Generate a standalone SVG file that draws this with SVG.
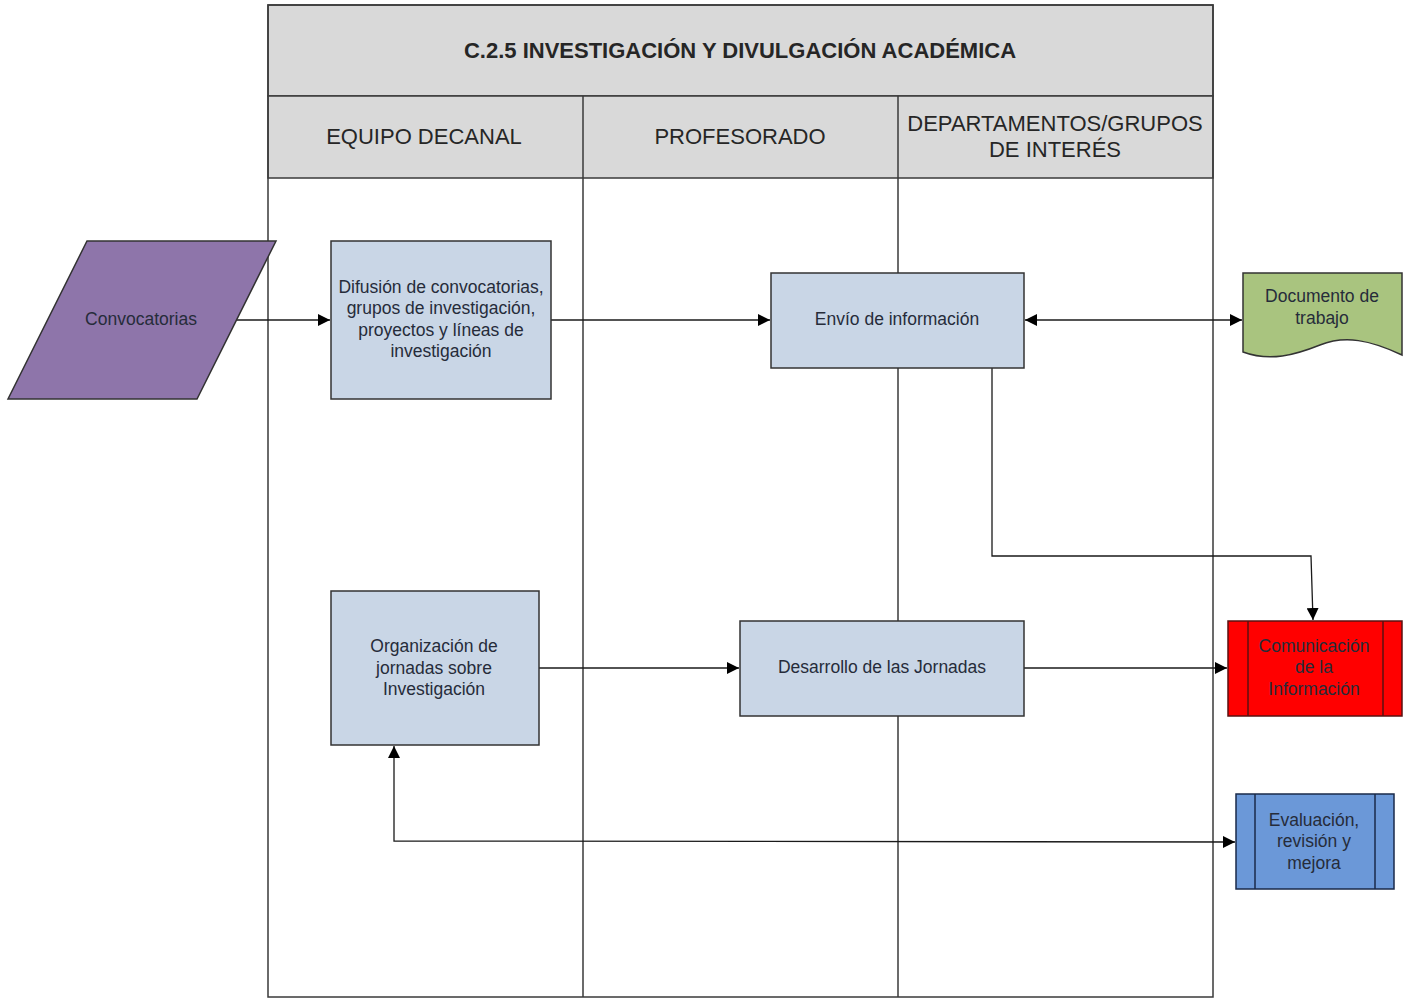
<svg xmlns="http://www.w3.org/2000/svg" width="1414" height="1001" viewBox="0 0 1414 1001">
<defs>
<style>
.lane{fill:none;stroke:#3a3a3a;stroke-width:1.5}
.hdr{fill:#d9d9d9;stroke:#3a3a3a;stroke-width:1.5}
.ht{font-family:"Liberation Sans",Arial,sans-serif;font-size:22px;fill:#262626;text-anchor:middle}
.tt{font-family:"Liberation Sans",Arial,sans-serif;font-size:22px;font-weight:bold;fill:#262626;text-anchor:middle}
.box{fill:#c9d6e6;stroke:#333;stroke-width:1.5}
.t{font-family:"Liberation Sans",Arial,sans-serif;font-size:17.5px;fill:#262c3a;text-anchor:middle}
.c{fill:none;stroke:#1a1a1a;stroke-width:1.3}
</style>
<marker id="ah" viewBox="0 0 10 10" refX="10" refY="5" markerWidth="12" markerHeight="12" markerUnits="userSpaceOnUse" orient="auto-start-reverse">
<path d="M0,0 L10,5 L0,10 Z" fill="#000"/>
</marker>
</defs>
<rect width="1414" height="1001" fill="#fff"/>
<g id="pool">
<rect class="hdr" x="268" y="5" width="945" height="91"/>
<text class="tt" x="740" y="58">C.2.5 INVESTIGACIÓN Y DIVULGACIÓN ACADÉMICA</text>
<rect class="hdr" x="268" y="96" width="945" height="82"/>
<rect class="lane" x="268" y="5" width="945" height="992"/>
<line class="lane" x1="583" y1="96" x2="583" y2="997"/>
<line class="lane" x1="898" y1="96" x2="898" y2="997"/>
<text class="ht" x="424" y="144">EQUIPO DECANAL</text>
<text class="ht" x="740" y="144">PROFESORADO</text>
<text class="ht" x="1055" y="131">DEPARTAMENTOS/GRUPOS</text>
<text class="ht" x="1055" y="157">DE INTERÉS</text>
</g>
<g id="connectors">
<line class="c" x1="236" y1="320" x2="330" y2="320" marker-end="url(#ah)"/>
<line class="c" x1="551" y1="320" x2="770" y2="320" marker-end="url(#ah)"/>
<line class="c" x1="1025" y1="320" x2="1242" y2="320" marker-start="url(#ah)" marker-end="url(#ah)"/>
<polyline class="c" points="992,368 992,556 1311,556 1313,620" marker-end="url(#ah)"/>
<line class="c" x1="539" y1="668" x2="739" y2="668" marker-end="url(#ah)"/>
<line class="c" x1="1024" y1="668" x2="1227" y2="668" marker-end="url(#ah)"/>
<polyline class="c" points="394,746 394,841 1235,842" marker-start="url(#ah)" marker-end="url(#ah)"/>
</g>
<g id="convocatorias">
<polygon points="87,241 276,241 197,399 8,399" fill="#8e75aa" stroke="#333" stroke-width="1.5"/>
<text class="t" x="141" y="325" fill="#2a1f3a">Convocatorias</text>
</g>
<g id="difusion">
<rect class="box" x="331" y="241" width="220" height="158"/>
<text class="t" x="441" y="293">Difusión de convocatorias,</text>
<text class="t" x="441" y="314">grupos de investigación,</text>
<text class="t" x="441" y="336">proyectos y líneas de</text>
<text class="t" x="441" y="357">investigación</text>
</g>
<g id="envio">
<rect class="box" x="771" y="273" width="253" height="95"/>
<text class="t" x="897" y="325">Envío de información</text>
</g>
<g id="documento">
<path d="M1243,273 H1402 V355 C1370,340 1345,335 1320,345 C1295,355 1270,362 1243,352 Z" fill="#a9c47f" stroke="#333" stroke-width="1.5"/>
<text class="t" x="1322" y="302">Documento de</text>
<text class="t" x="1322" y="324">trabajo</text>
</g>
<g id="organizacion">
<rect class="box" x="331" y="591" width="208" height="154"/>
<text class="t" x="434" y="652">Organización de</text>
<text class="t" x="434" y="674">jornadas sobre</text>
<text class="t" x="434" y="695">Investigación</text>
</g>
<g id="desarrollo">
<rect class="box" x="740" y="621" width="284" height="95"/>
<text class="t" x="882" y="673">Desarrollo de las Jornadas</text>
</g>
<g id="comunicacion">
<rect x="1228" y="621" width="174" height="95" fill="#ff0000" stroke="#5a1010" stroke-width="1.5"/>
<line x1="1248" y1="621" x2="1248" y2="716" stroke="#5a1010" stroke-width="1.5"/>
<line x1="1383" y1="621" x2="1383" y2="716" stroke="#5a1010" stroke-width="1.5"/>
<text class="t" x="1314" y="652" fill="#b00000">Comunicación</text>
<text class="t" x="1314" y="673" fill="#b00000">de la</text>
<text class="t" x="1314" y="695" fill="#b00000">Información</text>
</g>
<g id="evaluacion">
<rect x="1236" y="794" width="158" height="95" fill="#6b98d8" stroke="#1a2a4a" stroke-width="1.5"/>
<line x1="1255" y1="794" x2="1255" y2="889" stroke="#1a2a4a" stroke-width="1.5"/>
<line x1="1375" y1="794" x2="1375" y2="889" stroke="#1a2a4a" stroke-width="1.5"/>
<text class="t" x="1314" y="826" fill="#1a2a4a">Evaluación,</text>
<text class="t" x="1314" y="847" fill="#1a2a4a">revisión y</text>
<text class="t" x="1314" y="869" fill="#1a2a4a">mejora</text>
</g>
</svg>
